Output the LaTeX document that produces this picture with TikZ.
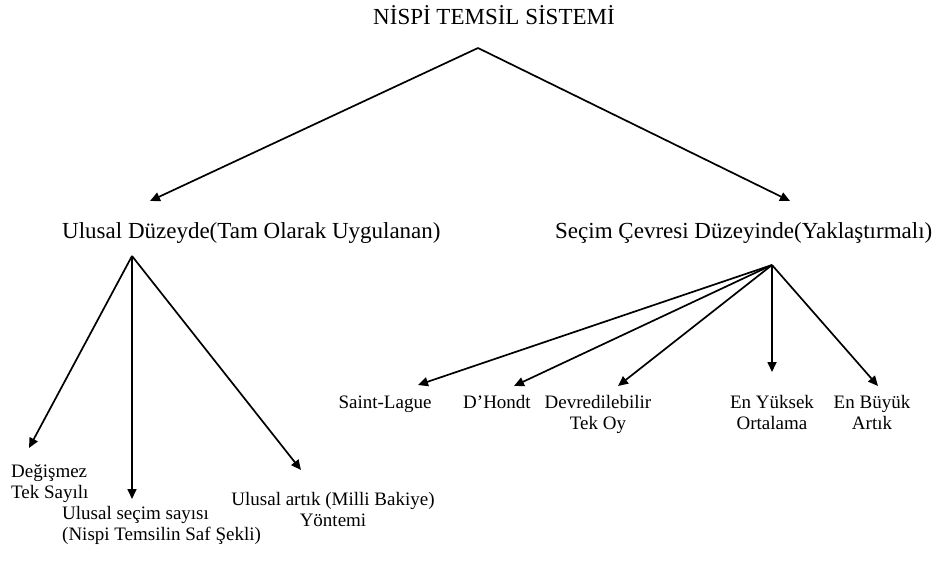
\documentclass[tikz,border=0pt]{standalone}
\usepackage{fontspec}
\setmainfont{Liberation Serif}
\usetikzlibrary{arrows.meta}

\begin{document}
\begin{tikzpicture}[x=1pt, y=-1pt,
		ok/.style={line width=1.7pt, -{Triangle[length=10pt, width=9pt]}},
		duzey/.style={inner sep=0pt, font=\fontsize{23}{27}\selectfont},
		alt/.style={inner sep=0pt, font=\fontsize{19}{21.5}\selectfont}]
		\useasboundingbox (0, 0) rectangle (937, 562);
		% title
		\node[duzey, anchor=base] (nts) at (494, 24) {NİSPİ TEMSİL SİSTEMİ};
		\coordinate (tepe) at (478, 48);
		% two levels
		\node[duzey, anchor=base west] (ulusal) at (62, 238) {Ulusal Düzeyde(Tam Olarak Uygulanan)};
		\node[duzey, anchor=base west] (cevre) at (555, 238) {Seçim Çevresi Düzeyinde(Yaklaştırmalı)};
		\coordinate (u) at (150, 201);
		\coordinate (c) at (790, 201);
		\draw[ok] (tepe) -- (u);
		\draw[ok] (tepe) -- (c);
		% left hand (base = last line)
		\coordinate (ut) at (132, 256);
		\node[alt, align=left, anchor=base west] (dts) at (11, 498.5) {Değişmez\\Tek Sayılı};
		\node[alt, align=left, anchor=base west] (uss) at (62, 540.5) {Ulusal seçim sayısı\\(Nispi Temsilin Saf Şekli)};
		\node[alt, align=center, anchor=base] (uay) at (333, 526.5) {Ulusal artık (Milli Bakiye)\\Yöntemi};
		\coordinate (u1) at (29, 448);
		\coordinate (u2) at (132, 499);
		\coordinate (u3) at (301, 470);
		\draw[ok] (ut) -- (u1);
		\draw[ok] (ut) -- (u2);
		\draw[ok] (ut) -- (u3);
		% right hand
		\coordinate (ct) at (772, 265);
		\node[alt, anchor=base] (sl) at (385, 408) {Saint-Lague};
		\node[alt, anchor=base] (dh) at (497, 408) {D’Hondt};
		\node[alt, align=center, anchor=base] (dto) at (598, 429.5) {Devredilebilir\\Tek Oy};
		\node[alt, align=center, anchor=base] (eyo) at (772, 429.5) {En Yüksek\\Ortalama};
		\node[alt, align=center, anchor=base] (eba) at (872, 429.5) {En Büyük\\Artık};
		\coordinate (c1) at (418, 385);
		\coordinate (c2) at (514, 386);
		\coordinate (c3) at (618, 386);
		\coordinate (c4) at (772, 372);
		\coordinate (c5) at (878, 386);
		\foreach \t in {c1, c2, c3, c4, c5}
			\draw[ok] (ct) -- (\t);
	\end{tikzpicture}
\end{document}
